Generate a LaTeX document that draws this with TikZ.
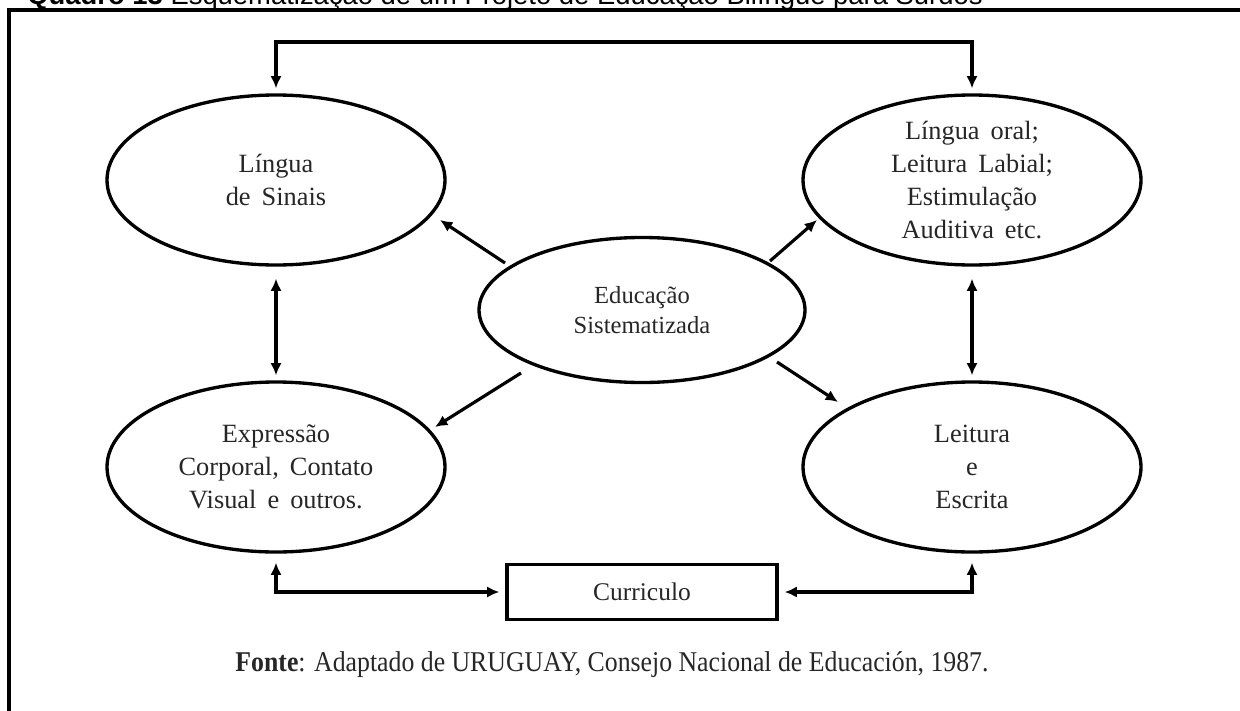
\documentclass[tikz,border=0pt]{standalone}
\usepackage{fontspec}
\setmainfont{Liberation Serif}
\newfontfamily\titlefont{Liberation Sans}
\newfontfamily\notefont{Liberation Serif}[FakeStretch=0.9]
\usetikzlibrary{shapes.geometric,arrows.meta,calc}

\def\pgfunit{*0.02cm}
\newcommand\widespace{\spaceskip=0.42em plus 0.1em\relax}

\tikzset{
  bubble/.style={ellipse, draw, line width=1.9pt, inner sep=0pt,
    minimum width=338\pgfunit, minimum height=170\pgfunit, align=center,
    text=black!85, font=\fontsize{15}{18.7}\selectfont\widespace},
  hub/.style={bubble, minimum width=326\pgfunit, minimum height=145\pgfunit,
    font=\fontsize{14}{17}\selectfont},
  plainbox/.style={rectangle, draw, line width=1.9pt, inner sep=0pt,
    minimum width=270\pgfunit, minimum height=55\pgfunit,
    text=black!85, font=\fontsize{14.5}{17}\selectfont},
  tip/.tip={Latex[length=7pt,width=6.5pt]},
  arr/.style={line width=1.8pt, -tip},
  darr/.style={line width=1.8pt, tip-tip},
  frame/.style={line width=2.3pt},
}

\begin{document}
\begin{tikzpicture}[x=0.02cm,y=-0.02cm]
  \useasboundingbox (0,0) rectangle (1240,710);

  % outer frame (top and left rules)
  \draw[frame] (9,720) -- (9,10) -- (1250,10);

  % caption running off the top edge
  \node[anchor=base west, inner sep=0pt, font=\titlefont\fontsize{15.6}{18}\selectfont]
    (caption) at (27,4.5) {\textbf{Quadro 13} Esquematização de um Projeto de Educação Bilíngue para Surdos};

  % nodes
  \node[bubble] (LS) at (276,180) {Língua\\de Sinais};
  \node[bubble] (LO) at (972,180) {Língua oral;\\Leitura Labial;\\Estimulação\\Auditiva etc.};
  \node[hub]    (ES) at (642,310) {Educação\\Sistematizada};
  \node[bubble] (EX) at (276,467) {Expressão\\Corporal, Contato\\Visual e outros.};
  \node[bubble] (LE) at (972,467) {Leitura\\e\\Escrita};
  \node[plainbox] (CU) at (642,592) {Curriculo};

  % top rail between the two upper bubbles
  \coordinate (rail) at (0,42);
  \draw[darr, shorten <=0.1cm, shorten >=0.1cm]
    (LS.north) -- (LS.north |- rail) -| (LO.north);

  % vertical links
  \draw[darr, shorten <=0.24cm, shorten >=0.1cm] (LS.south) -- (EX.north);
  \draw[darr, shorten <=0.24cm, shorten >=0.1cm] (LO.south) -- (LE.north);

  % from the hub outwards
  \draw[arr] ($(ES)+(-137,-47)$) -- ($(LS)+(164,40)$);
  \draw[arr] ($(ES)+(128,-49)$) -- ($(LO)+(-155,40)$);
  \draw[arr] ($(ES)+(-121,63)$) -- ($(EX)+(159,-40)$);
  \draw[arr] ($(ES)+(135,52)$) -- ($(LE)+(-134,-65)$);

  % bottom links through the curriculum box
  \draw[darr, shorten <=0.18cm, shorten >=0.12cm] (EX.south) |- (CU.west);
  \draw[darr, shorten <=0.12cm, shorten >=0.18cm] (CU.east) -| (LE.south);

  % source note
  \node[anchor=base, inner sep=0pt, text=black!85, font=\notefont\fontsize{16.3}{18}\selectfont]
    (source) at (612,671) {\textbf{Fonte}: Adaptado de URUGUAY, Consejo Nacional de Educación, 1987.};
\end{tikzpicture}
\end{document}
